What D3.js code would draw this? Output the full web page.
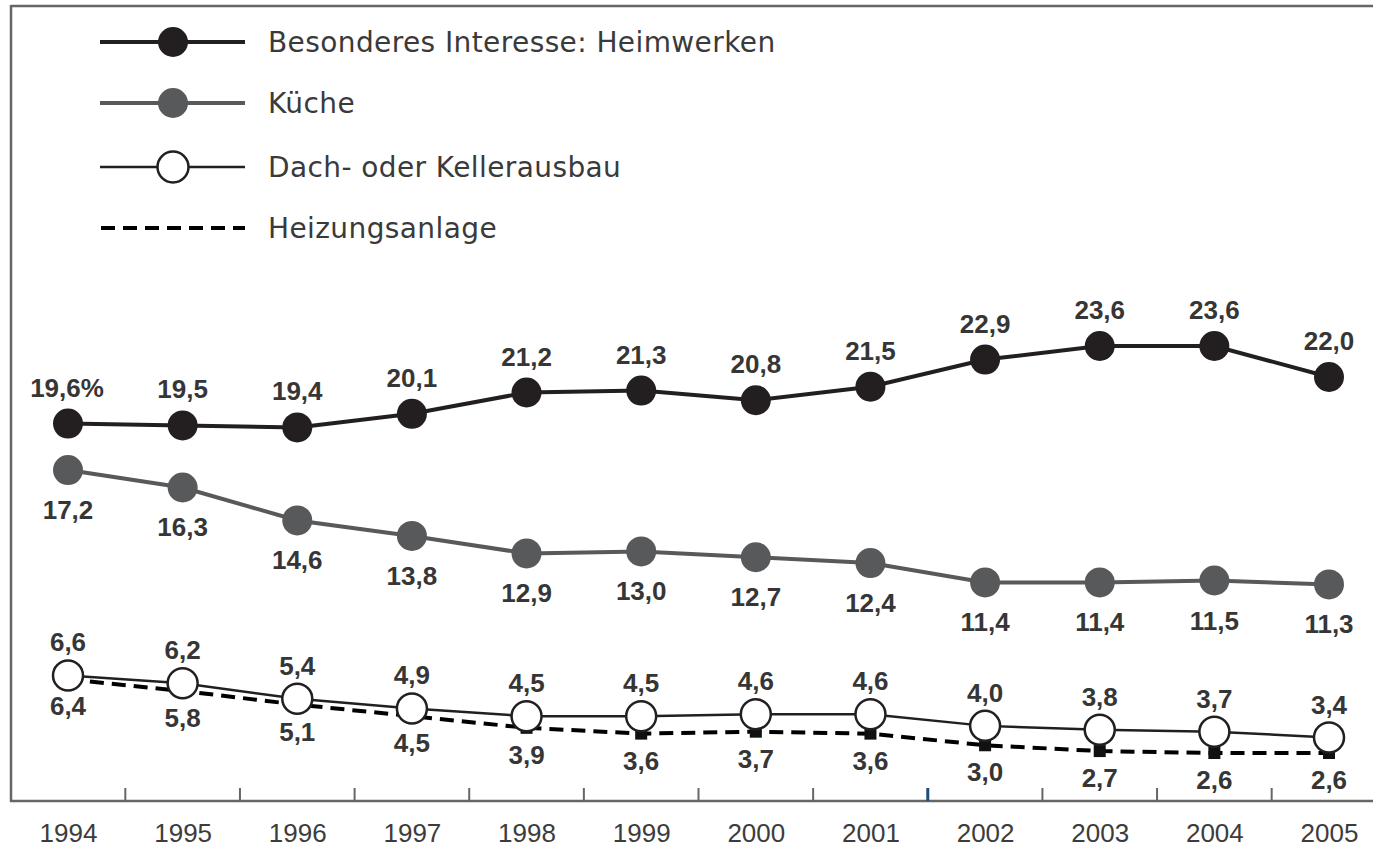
<!DOCTYPE html>
<html>
<head>
<meta charset="utf-8">
<script src="https://cdn.jsdelivr.net/npm/d3@7"></script>
<style>
  body { margin: 0; background: #fff; }
  svg { display: block; }
</style>
</head>
<body>
<script>
(function(){
  var width = 1373, height = 848;

  var years = ["1994","1995","1996","1997","1998","1999","2000","2001","2002","2003","2004","2005"];
  var heimwerken = [19.6, 19.5, 19.4, 20.1, 21.2, 21.3, 20.8, 21.5, 22.9, 23.6, 23.6, 22.0];
  var kueche = [17.2, 16.3, 14.6, 13.8, 12.9, 13.0, 12.7, 12.4, 11.4, 11.4, 11.5, 11.3];
  var dach = [6.6, 6.2, 5.4, 4.9, 4.5, 4.5, 4.6, 4.6, 4.0, 3.8, 3.7, 3.4];
  var heizung = [6.4, 5.8, 5.1, 4.5, 3.9, 3.6, 3.7, 3.6, 3.0, 2.7, 2.6, 2.6];
  var legendNames = ["Besonderes Interesse: Heimwerken", "Küche", "Dach- oder Kellerausbau", "Heizungsanlage"];

  var dark = "#231f20", gray = "#58595b", textCol = "#363636", frame = "#666";

  var svg = d3.select("body").append("svg")
    .attr("width", width)
    .attr("height", height);

  var x = d3.scalePoint().domain(years).range([68, 1329]);
  var y = d3.scaleLinear().domain([0, 23.6]).range([803.4, 346]);

  // frame: top and left border, bottom axis
  svg.append("line").attr("x1", 11).attr("x2", width).attr("y1", 6).attr("y2", 6)
    .attr("stroke", frame).attr("stroke-width", 2.5);
  svg.append("line").attr("x1", 11).attr("x2", 11).attr("y1", 5).attr("y2", 802)
    .attr("stroke", frame).attr("stroke-width", 2.5);

  var xAxis = d3.axisBottom(x).tickSize(0).tickPadding(0).tickFormat(d => d);
  var ax = svg.append("g").attr("transform", "translate(0,801)").call(xAxis);
  ax.select(".domain").remove();
  ax.selectAll("text")
    .attr("y", 41).attr("dy", null)
    .style("font-family", "'Liberation Sans', Arial, sans-serif")
    .style("font-size", "26px")
    .attr("fill", "#3c3c3c");
  svg.append("line").attr("x1", 10).attr("x2", width).attr("y1", 801).attr("y2", 801)
    .attr("stroke", frame).attr("stroke-width", 2.5);

  // ticks between years
  var step = x.step();
  years.slice(0, -1).forEach(function(yr, i){
    svg.append("line")
      .attr("x1", x(yr) + step/2).attr("x2", x(yr) + step/2)
      .attr("y1", 788).attr("y2", 801)
      .attr("stroke", i === 7 ? "#1f4e7a" : frame)
      .attr("stroke-width", i === 7 ? 3 : 2);
  });

  function fmt(v){ return d3.format(".1f")(v).replace(".", ","); }

  var line = d3.line().x((d, i) => x(years[i])).y(d => y(d));

  // Heizungsanlage
  svg.append("path").datum(heizung).attr("d", line)
    .attr("fill", "none").attr("stroke", "#000").attr("stroke-width", 4)
    .attr("stroke-dasharray", "14,8");
  svg.selectAll(".sq").data(heizung).enter().append("rect")
    .attr("x", (d, i) => x(years[i]) - 6).attr("y", d => y(d) - 6)
    .attr("width", 12).attr("height", 12).attr("fill", "#111");

  // Dach- oder Kellerausbau
  svg.append("path").datum(dach).attr("d", line)
    .attr("fill", "none").attr("stroke", dark).attr("stroke-width", 2.5);
  svg.selectAll(".dc").data(dach).enter().append("circle")
    .attr("cx", (d, i) => x(years[i])).attr("cy", d => y(d)).attr("r", 15)
    .attr("fill", "#fff").attr("stroke", dark).attr("stroke-width", 2.5);

  // Küche
  svg.append("path").datum(kueche).attr("d", line)
    .attr("fill", "none").attr("stroke", gray).attr("stroke-width", 4);
  svg.selectAll(".kc").data(kueche).enter().append("circle")
    .attr("cx", (d, i) => x(years[i])).attr("cy", d => y(d)).attr("r", 15)
    .attr("fill", gray);

  // Heimwerken
  svg.append("path").datum(heimwerken).attr("d", line)
    .attr("fill", "none").attr("stroke", dark).attr("stroke-width", 4);
  svg.selectAll(".hc").data(heimwerken).enter().append("circle")
    .attr("cx", (d, i) => x(years[i])).attr("cy", d => y(d)).attr("r", 15)
    .attr("fill", dark);

  // value labels
  function labels(data, off, pct){
    svg.append("g").selectAll("text").data(data).enter().append("text")
      .attr("x", (d, i) => x(years[i]) + (pct && i === 0 ? -1 : 0))
      .attr("y", d => y(d) + off)
      .attr("text-anchor", "middle")
      .style("font-family", "'Liberation Sans', Arial, sans-serif")
      .style("font-weight", "bold")
      .style("font-size", "26px")
      .attr("fill", textCol)
      .text((d, i) => fmt(d) + (pct && i === 0 ? "%" : ""));
  }
  labels(heimwerken, -27, true);
  labels(kueche, 49, false);
  labels(dach, -24, false);
  labels(heizung, 36, false);

  // legend
  var legY = [42, 103, 167, 228];
  var lg = svg.append("g");
  lg.append("line").attr("x1", 100).attr("x2", 245).attr("y1", legY[0]).attr("y2", legY[0])
    .attr("stroke", dark).attr("stroke-width", 4);
  lg.append("circle").attr("cx", 173).attr("cy", legY[0]).attr("r", 15).attr("fill", dark);
  lg.append("line").attr("x1", 100).attr("x2", 245).attr("y1", legY[1]).attr("y2", legY[1])
    .attr("stroke", gray).attr("stroke-width", 4);
  lg.append("circle").attr("cx", 173).attr("cy", legY[1]).attr("r", 15).attr("fill", gray);
  lg.append("line").attr("x1", 100).attr("x2", 245).attr("y1", legY[2]).attr("y2", legY[2])
    .attr("stroke", dark).attr("stroke-width", 2.5);
  lg.append("circle").attr("cx", 173).attr("cy", legY[2]).attr("r", 15.5)
    .attr("fill", "#fff").attr("stroke", dark).attr("stroke-width", 2.5);
  lg.append("line").attr("x1", 101).attr("x2", 245).attr("y1", legY[3]).attr("y2", legY[3])
    .attr("stroke", "#000").attr("stroke-width", 4).attr("stroke-dasharray", "14,8");

  lg.selectAll("text").data(legendNames).enter().append("text")
    .attr("x", 268).attr("y", (d, i) => legY[i] + 10)
    .style("font-family", "'DejaVu Sans', sans-serif")
    .style("font-size", "28px")
    .style("letter-spacing", "0.4px")
    .attr("fill", "#3a3a3a")
    .text(d => d);
})();
</script>
</body>
</html>
